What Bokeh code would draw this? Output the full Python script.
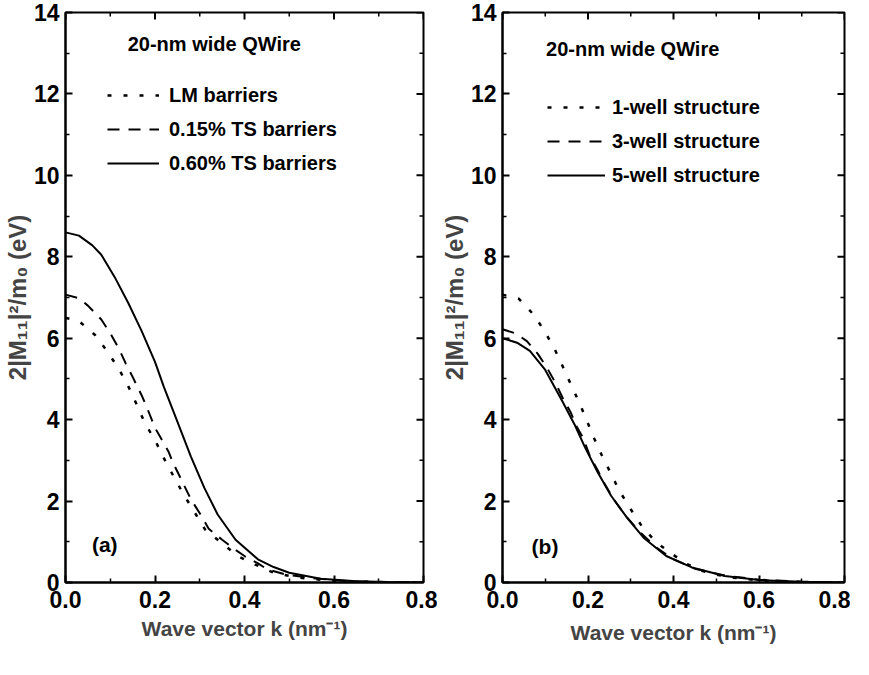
import math
from bokeh.plotting import figure
from bokeh.models import (Range1d, FixedTicker, NumeralTickFormatter,
                          Legend, LegendItem, Label)
from bokeh.layouts import row
from bokeh.embed import file_html
from bokeh.resources import INLINE

# ---------------- data ----------------
x_ticks = [0.0, 0.2, 0.4, 0.6, 0.8]
x_minor = [0.1, 0.3, 0.5, 0.7]
y_ticks = [0, 2, 4, 6, 8, 10, 12, 14]
y_minor = [1, 3, 5, 7, 9, 11, 13]

# panel (a)
a_lm_k = [0, 0.03, 0.066, 0.095, 0.12, 0.142, 0.16, 0.178, 0.20, 0.218, 0.24, 0.262,
          0.287, 0.312, 0.348, 0.385, 0.414, 0.465, 0.52, 0.60, 0.70, 0.80]
a_lm_v = [6.50, 6.42, 6.08, 5.65, 5.23, 4.78, 4.35, 3.90, 3.50, 3.09, 2.64, 2.20,
          1.75, 1.30, 0.98, 0.65, 0.49, 0.24, 0.12, 0.04, 0.01, 0.0]

a_ts015_k = [0, 0.03, 0.05, 0.08, 0.10, 0.12, 0.135, 0.15, 0.17, 0.18, 0.20, 0.23, 0.24,
             0.26, 0.28, 0.30, 0.32, 0.35, 0.38, 0.40, 0.43, 0.45, 0.49, 0.55, 0.62, 0.70, 0.80]
a_ts015_v = [7.07, 6.98, 6.80, 6.46, 6.12, 5.73, 5.37, 5.05, 4.60, 4.35, 3.80, 3.22, 2.95,
             2.50, 2.05, 1.70, 1.32, 1.05, 0.80, 0.65, 0.47, 0.33, 0.20, 0.11, 0.04, 0.01, 0.0]

a_ts060_k = [0, 0.03, 0.06, 0.08, 0.11, 0.14, 0.17, 0.20, 0.22, 0.25, 0.28, 0.31, 0.34,
             0.38, 0.43, 0.465, 0.50, 0.57, 0.65, 0.72, 0.80]
a_ts060_v = [8.60, 8.52, 8.28, 8.05, 7.50, 6.87, 6.18, 5.42, 4.80, 3.95, 3.10, 2.33, 1.67,
             1.05, 0.57, 0.38, 0.24, 0.09, 0.03, 0.01, 0.0]

a_labels = ["LM barriers", "0.15% TS barriers", "0.60% TS barriers"]

# panel (b)
b_w1_k = [0, 0.038, 0.072, 0.10, 0.123, 0.142, 0.161, 0.18, 0.197, 0.214, 0.232, 0.252,
          0.273, 0.298, 0.326, 0.36, 0.398, 0.432, 0.466, 0.50, 0.538, 0.60, 0.70, 0.80]
b_w1_v = [7.07, 6.97, 6.59, 6.15, 5.71, 5.28, 4.84, 4.41, 3.98, 3.55, 3.13, 2.71,
          2.26, 1.83, 1.38, 0.98, 0.69, 0.45, 0.29, 0.19, 0.12, 0.05, 0.01, 0.0]

b_w3_k = [0, 0.03, 0.057, 0.083, 0.106, 0.125, 0.14, 0.159, 0.174, 0.189, 0.205, 0.223,
          0.239, 0.261, 0.285, 0.32, 0.36, 0.40, 0.45, 0.52, 0.60, 0.70, 0.80]
b_w3_v = [6.22, 6.12, 5.93, 5.61, 5.24, 4.88, 4.55, 4.19, 3.82, 3.54, 3.09, 2.75,
          2.42, 2.03, 1.68, 1.25, 0.86, 0.57, 0.34, 0.17, 0.07, 0.02, 0.0]

b_w5_k = [0, 0.034, 0.064, 0.10, 0.14, 0.17, 0.193, 0.223, 0.254, 0.292, 0.33, 0.383,
          0.443, 0.52, 0.60, 0.70, 0.80]
b_w5_v = [6.00, 5.89, 5.69, 5.22, 4.45, 3.85, 3.32, 2.70, 2.13, 1.58, 1.10, 0.65,
          0.37, 0.16, 0.06, 0.02, 0.0]

b_labels = ["1-well structure", "3-well structure", "5-well structure"]

title_text = "20-nm wide QWire"
x_label = "Wave vector k (nm\u207b\u00b9)"
y_label = "2|M\u2081\u2081|\u00b2/m\u2080 (eV)"

FONT = "Liberation Sans"
DOT = "4 12"
DASH = "12 9"


def style_axis(ax, ticker):
    ax.ticker = ticker
    ax.axis_line_width = 2
    ax.axis_line_color = "black"
    ax.major_tick_in = 7
    ax.major_tick_out = 0
    ax.minor_tick_in = 4
    ax.minor_tick_out = 0
    ax.major_tick_line_width = 2
    ax.minor_tick_line_width = 1.5
    ax.major_label_text_font = FONT
    ax.major_label_text_font_style = "bold"
    ax.major_label_text_color = "black"
    ax.major_label_text_font_size = "23px"


def make_panel(width, height, border_left, border_right, border_top, border_bottom,
               series, labels, legend_xy, glyph_w, standoff, title_xy, tag, tag_xy,
               x_tick_standoff, x_label_standoff):
    p = figure(width=width, height=height, output_backend="svg", toolbar_location=None,
               x_range=Range1d(0, 0.8), y_range=Range1d(0, 14),
               min_border_left=border_left, min_border_right=border_right,
               min_border_top=border_top, min_border_bottom=border_bottom,
               background_fill_color="white", border_fill_color="white",
               outline_line_color="black", outline_line_width=2)
    p.grid.visible = False
    xt = FixedTicker(ticks=x_ticks, minor_ticks=x_minor)
    yt = FixedTicker(ticks=y_ticks, minor_ticks=y_minor)

    xa = p.xaxis[0]
    style_axis(xa, xt)
    xa.formatter = NumeralTickFormatter(format="0.0")
    xa.major_label_standoff = x_tick_standoff
    xa.axis_label = x_label
    xa.axis_label_text_font = FONT
    xa.axis_label_text_font_style = "bold"
    xa.axis_label_text_font_size = "21px"
    xa.axis_label_standoff = x_label_standoff

    ya = p.yaxis[0]
    style_axis(ya, yt)
    ya.major_label_standoff = 6
    ya.axis_label = y_label
    ya.axis_label_text_font = FONT
    ya.axis_label_text_font_style = "bold"
    ya.axis_label_text_font_size = "24px"
    ya.axis_label_standoff = 0

    # inward ticks mirrored on the top and right frame edges
    x_end = x_ticks[-1]
    y_end = y_ticks[-1]
    p.ray(x=x_ticks, y=[y_end] * len(x_ticks), length=7, length_units="screen",
          angle=-math.pi / 2, line_color="black", line_width=2)
    p.ray(x=x_minor, y=[y_end] * len(x_minor), length=4, length_units="screen",
          angle=-math.pi / 2, line_color="black", line_width=1.5)
    p.ray(x=[x_end] * len(y_ticks), y=y_ticks, length=7, length_units="screen",
          angle=math.pi, line_color="black", line_width=2)
    p.ray(x=[x_end] * len(y_minor), y=y_minor, length=4, length_units="screen",
          angle=math.pi, line_color="black", line_width=1.5)

    items = []
    for (k, v, dash, lw), lab in zip(series, labels):
        r = p.line(k, v, line_color="black", line_width=lw, line_dash=dash)
        items.append(LegendItem(label=lab, renderers=[r]))

    leg = Legend(items=items, location=legend_xy, orientation="vertical",
                 padding=0, margin=0, spacing=2, glyph_width=glyph_w, glyph_height=32,
                 label_height=32, label_standoff=standoff,
                 label_text_font=FONT, label_text_font_style="bold",
                 label_text_font_size="20px", label_text_color="black",
                 border_line_alpha=0, background_fill_alpha=0)
    p.add_layout(leg, "center")

    p.add_layout(Label(x=title_xy[0], y=title_xy[1], text=title_text,
                       text_font=FONT, text_font_style="bold", text_font_size="20px",
                       text_baseline="middle", text_align="left", text_color="black"))
    p.add_layout(Label(x=tag_xy[0], y=tag_xy[1], text=tag,
                       text_font=FONT, text_font_style="bold", text_font_size="21px",
                       text_baseline="middle", text_align="left", text_color="black"))
    return p


pa = make_panel(437, 659, 55, 14, 12, 73,
                [(a_lm_k, a_lm_v, DOT, 2.5), (a_ts015_k, a_ts015_v, DASH, 2),
                 (a_ts060_k, a_ts060_v, "solid", 2)],
                a_labels, (42, 403), 52, 10, (0.139, 13.22), "(a)", (0.059, 0.93), 8, 6)

pb = make_panel(413, 659, 55, 6, 12, 77,
                [(b_w1_k, b_w1_v, DOT, 2.5), (b_w3_k, b_w3_v, DASH, 2),
                 (b_w5_k, b_w5_v, "solid", 2)],
                b_labels, (45, 391), 58, 7, (0.102, 13.1), "(b)", (0.068, 0.88), 8, 10)

layout = row(pa, pb)
open("out.html", "w").write(file_html(layout, INLINE))
